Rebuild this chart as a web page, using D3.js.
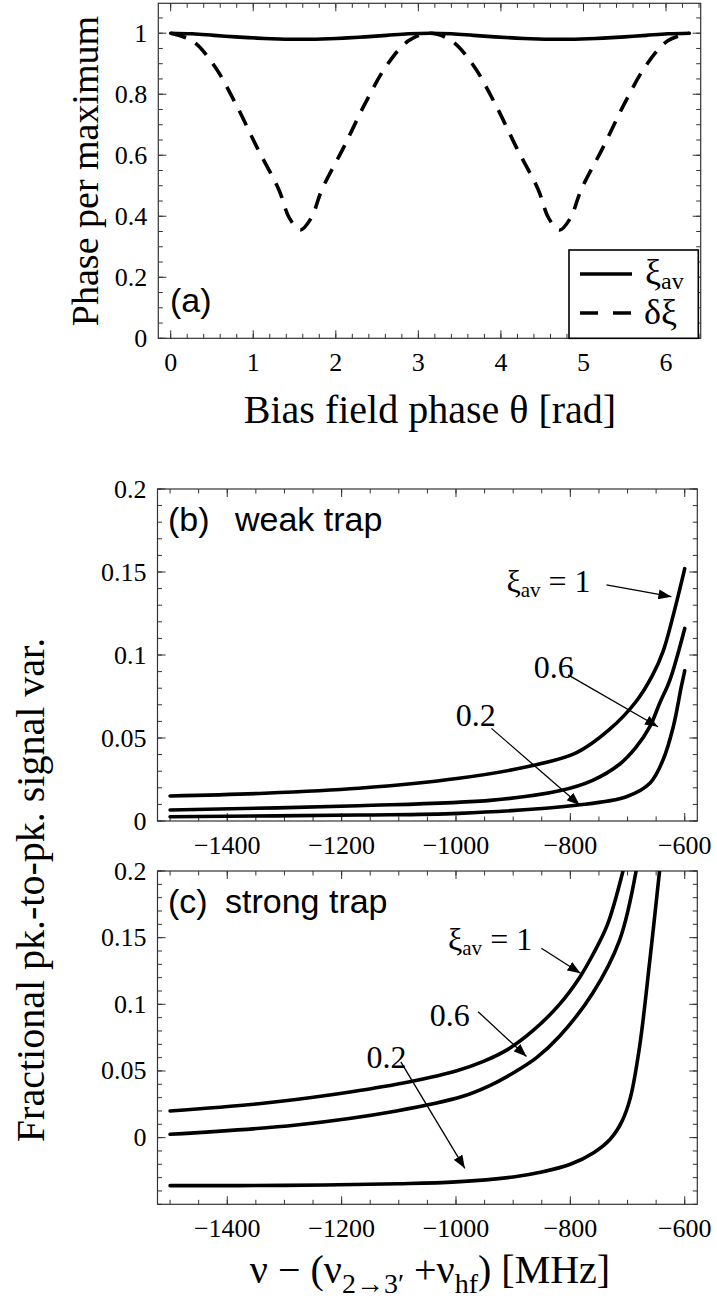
<!DOCTYPE html>
<html>
<head>
<meta charset="utf-8">
<script src="https://cdn.jsdelivr.net/npm/d3@7"></script>
<style>
  body { margin: 0; background: #fff; }
  svg { display: block; }
  .tick-label { font-family: "Liberation Serif", "Times New Roman", serif; font-size: 26px; fill: #000; }
  .axis-label { font-family: "Liberation Serif", "Times New Roman", serif; font-size: 40px; fill: #000; }
  .panel-tag { font-family: "Liberation Sans", Arial, sans-serif; font-size: 34px; fill: #000; }
  .note { font-family: "Liberation Serif", "Times New Roman", serif; font-size: 32px; fill: #000; }
</style>
</head>
<body>
<svg id="fig" width="717" height="1302"></svg>
<script>
// ---- data ----
// (a) phase per maximum vs bias field phase
const theta = [0, 0.262, 0.524, 0.785, 1.047, 1.309, 1.44, 1.571, 1.70, 1.833, 2.094, 2.356, 2.618, 2.880, 3.142,
               3.403, 3.665, 3.927, 4.189, 4.451, 4.58, 4.712, 4.84, 4.974, 5.236, 5.498, 5.760, 6.021, 6.283];
const xiAv = [1.0, 0.998, 0.993, 0.988, 0.984, 0.981, 0.980, 0.980, 0.980, 0.981, 0.984, 0.988, 0.993, 0.998, 1.0,
              0.998, 0.993, 0.988, 0.984, 0.981, 0.980, 0.980, 0.980, 0.981, 0.984, 0.988, 0.993, 0.998, 1.0];
const dXi  = [1.0, 0.975, 0.895, 0.77, 0.625, 0.488, 0.393, 0.355, 0.393, 0.488, 0.625, 0.77, 0.895, 0.975, 1.0,
              0.975, 0.895, 0.77, 0.625, 0.488, 0.393, 0.355, 0.393, 0.488, 0.625, 0.77, 0.895, 0.975, 1.0];

// (b) weak trap: [detuning MHz, fractional variation]
const weakXi1  = [[-1500, 0.0151], [-1335, 0.0167], [-1170, 0.0197], [-995, 0.0257], [-878, 0.0325], [-790, 0.0410],
                  [-732, 0.0550], [-685, 0.0720], [-656, 0.0880], [-638, 0.102], [-620, 0.124], [-600, 0.152]];
const weakXi06 = [[-1500, 0.0066], [-1170, 0.0092], [-936, 0.0126], [-819, 0.0182], [-761, 0.0245], [-714, 0.0342],
                  [-685, 0.0445], [-661, 0.0568], [-644, 0.0708], [-626, 0.0849], [-600, 0.116]];
const weakXi02 = [[-1500, 0.0026], [-1170, 0.0036], [-995, 0.0046], [-790, 0.0095], [-702, 0.0146], [-661, 0.0227],
                  [-638, 0.0367], [-620, 0.0568], [-606, 0.0809], [-600, 0.0905]];

// (c) strong trap
const strongXi1  = [[-1500, 0.020], [-1337, 0.0258], [-1221, 0.032], [-1104, 0.040], [-1000, 0.050], [-953, 0.057],
                    [-910, 0.066], [-866, 0.080], [-819, 0.100], [-784, 0.120], [-761, 0.137], [-735, 0.160], [-708, 0.2]];
const strongXi06 = [[-1500, 0.0025], [-1279, 0.0095], [-1104, 0.0200], [-988, 0.031], [-941, 0.039], [-900, 0.0485],
                    [-859, 0.060], [-819, 0.076], [-761, 0.1083], [-714, 0.148], [-685, 0.2]];
const strongXi02 = [[-1500, -0.036], [-1300, -0.0358], [-1100, -0.0346], [-1000, -0.0332], [-900, -0.0295], [-850, -0.0258],
                    [-800, -0.020], [-760, -0.0115], [-730, -0.001], [-710, 0.012], [-695, 0.030], [-679, 0.068],
                    [-661, 0.133], [-644, 0.2]];

// tick labels
const aXTicks = [0, 1, 2, 3, 4, 5, 6];
const aYTicks = [0, 0.2, 0.4, 0.6, 0.8, 1];
const detTicks = [-1400, -1200, -1000, -800, -600];
const varTicks = [0, 0.05, 0.1, 0.15, 0.2];

// annotations: label text, label anchor (data), arrow start, arrow tip (data)
const weakNotes = [
  { t: 'xi1', at: [-911.7, 0.138], from: [-736.9, 0.1422], to: [-623.3, 0.1351] },
  { t: '0.6', at: [-829, 0.093], from: [-804, 0.088], to: [-646.7, 0.0568] },
  { t: '0.2', at: [-965.4, 0.0639], from: [-938, 0.0558], to: [-783.6, 0.0096] }
];
const strongNotes = [
  { t: 'xi1', at: [-1013.9, 0.1408], from: [-850.7, 0.142], to: [-782.3, 0.1233] },
  { t: '0.6', at: [-1010.8, 0.092], from: [-961.4, 0.0945], to: [-876.7, 0.0608] },
  { t: '0.2', at: [-1121.7, 0.0605], from: [-1096.5, 0.0568], to: [-984.6, -0.023] }
];

const svg = d3.select('#fig');

svg.append('defs').append('marker')
    .attr('id', 'head')
    .attr('markerUnits', 'userSpaceOnUse')
    .attr('markerWidth', 14).attr('markerHeight', 10)
    .attr('refX', 13).attr('refY', 5)
    .attr('orient', 'auto')
  .append('path')
    .attr('d', 'M0,0 L13,5 L0,10 Z')
    .attr('fill', '#000');

let clipCount = 0;
const smooth = d3.curveCatmullRom.alpha(0.5);

function panel(cfg) {
  let g = svg.append('g');
  let x = d3.scaleLinear().domain(cfg.xDom).range([cfg.l, cfg.r]);
  let y = d3.scaleLinear().domain(cfg.yDom).range([cfg.b, cfg.t]);

  let ticks = g.append('g').attr('stroke', '#333').attr('stroke-width', 1);
  function xTick(v, len) {
    ticks.append('line').attr('x1', x(v)).attr('x2', x(v)).attr('y1', cfg.b).attr('y2', cfg.b - len);
    ticks.append('line').attr('x1', x(v)).attr('x2', x(v)).attr('y1', cfg.t).attr('y2', cfg.t + len);
  }
  function yTick(v, len) {
    ticks.append('line').attr('y1', y(v)).attr('y2', y(v)).attr('x1', cfg.l).attr('x2', cfg.l + len);
    ticks.append('line').attr('y1', y(v)).attr('y2', y(v)).attr('x1', cfg.r).attr('x2', cfg.r - len);
  }
  cfg.xMinor.forEach(v => xTick(v, 4.5));
  cfg.xMajor.forEach(v => xTick(v, 8));
  cfg.yMinor.forEach(v => yTick(v, 4.5));
  cfg.yMajor.forEach(v => yTick(v, 8));

  g.append('rect')
      .attr('x', cfg.l).attr('y', cfg.t)
      .attr('width', cfg.r - cfg.l).attr('height', cfg.b - cfg.t)
      .attr('fill', 'none').attr('stroke', '#333').attr('stroke-width', 1.2);

  g.selectAll(null).data(cfg.xMajor).enter().append('text')
      .attr('class', 'tick-label')
      .attr('text-anchor', 'middle')
      .attr('x', d => x(d)).attr('y', cfg.b + 33)
      .text(cfg.xFmt);
  g.selectAll(null).data(cfg.yMajor).enter().append('text')
      .attr('class', 'tick-label')
      .attr('text-anchor', 'end')
      .attr('dominant-baseline', 'central')
      .attr('x', cfg.l - 11).attr('y', d => y(d))
      .text(cfg.yFmt);

  let id = 'clip' + (clipCount++);
  svg.select('defs').append('clipPath').attr('id', id)
    .append('rect').attr('x', cfg.l).attr('y', cfg.t).attr('width', cfg.r - cfg.l).attr('height', cfg.b - cfg.t);
  let plot = g.append('g').attr('clip-path', `url(#${id})`);

  return { x, y, g, plot };
}

function minorRange(a, b, step) {
  return d3.range(Math.ceil(a / step), Math.floor(b / step) + 1).map(i => +(i * step).toFixed(4));
}

// ---- panel (a) ----
let pa = panel({
  l: 158.3, r: 700.7, t: 3.3, b: 338.3,
  xDom: [-0.15, 6.42], yDom: [0, 1.098],
  xMajor: aXTicks, xMinor: minorRange(-0.15, 6.42, 0.2),
  yMajor: aYTicks, yMinor: minorRange(0, 1.098, 0.05),
  xFmt: d => d, yFmt: d => d
});

let lineA = d3.line().curve(smooth).x(d => pa.x(d[0])).y(d => pa.y(d[1]));

pa.plot.append('path')
    .attr('d', lineA(theta.map((t, i) => [t, dXi[i]])))
    .attr('fill', 'none').attr('stroke', '#000').attr('stroke-width', 3.6)
    .attr('stroke-dasharray', '16,11');
pa.plot.append('path')
    .attr('d', lineA(theta.map((t, i) => [t, xiAv[i]])))
    .attr('fill', 'none').attr('stroke', '#000').attr('stroke-width', 3.6)
    .attr('stroke-linecap', 'round');

pa.g.append('text').attr('class', 'panel-tag').attr('x', 170).attr('y', 312).text('(a)');

// legend
let leg = pa.g.append('g');
leg.append('rect').attr('x', 569).attr('y', 250).attr('width', 129.3).attr('height', 88.3)
    .attr('fill', '#fff').attr('stroke', '#000').attr('stroke-width', 1.6);
leg.append('line').attr('x1', 580).attr('x2', 632).attr('y1', 274).attr('y2', 274)
    .attr('stroke', '#000').attr('stroke-width', 3.6);
leg.append('line').attr('x1', 580).attr('x2', 632).attr('y1', 313).attr('y2', 313)
    .attr('stroke', '#000').attr('stroke-width', 3.6).attr('stroke-dasharray', '18,15');
let l1 = leg.append('text').attr('class', 'note').style('font-size', '36px').attr('x', 645).attr('y', 284);
l1.append('tspan').text('ξ');
l1.append('tspan').attr('font-size', '24px').attr('dy', 5).text('av');
leg.append('text').attr('class', 'note').style('font-size', '36px').attr('x', 644).attr('y', 324).text('δξ');

svg.append('text').attr('class', 'axis-label').attr('text-anchor', 'middle')
    .attr('x', 430).attr('y', 423).text('Bias field phase θ [rad]');
svg.append('text').attr('class', 'axis-label').attr('text-anchor', 'middle')
    .style('font-size', '38px')
    .attr('transform', 'translate(98,171) rotate(-90)').text('Phase per maximum');

// ---- panels (b) and (c) ----
function detPanel(top, bottom, yDom, series, notes, tag, tagWord, wordX) {
  let p = panel({
    l: 157.5, r: 697.3, t: top, b: bottom,
    xDom: [-1522, -578], yDom: yDom,
    xMajor: detTicks, xMinor: minorRange(-1522, -578, 50),
    yMajor: varTicks, yMinor: minorRange(yDom[0], yDom[1], 0.01),
    xFmt: d3.format('d'), yFmt: d => d
  });
  let line = d3.line().curve(smooth).x(d => p.x(d[0])).y(d => p.y(d[1]));
  series.forEach(s => {
    p.plot.append('path').attr('d', line(s))
      .attr('fill', 'none').attr('stroke', '#000').attr('stroke-width', 3.6)
      .attr('stroke-linecap', 'round');
  });
  notes.forEach(n => {
    p.g.append('line')
      .attr('x1', p.x(n.from[0])).attr('y1', p.y(n.from[1]))
      .attr('x2', p.x(n.to[0])).attr('y2', p.y(n.to[1]))
      .attr('stroke', '#000').attr('stroke-width', 1.3)
      .attr('marker-end', 'url(#head)');
    if (n.t === 'xi1') {
      let t = p.g.append('text').attr('class', 'note').attr('x', p.x(n.at[0])).attr('y', p.y(n.at[1]));
      t.append('tspan').text('ξ');
      t.append('tspan').attr('font-size', '21px').attr('dy', 5).text('av');
      t.append('tspan').attr('dy', -5).text(' = 1');
    } else {
      p.g.append('text').attr('class', 'note').attr('text-anchor', 'middle')
        .attr('x', p.x(n.at[0])).attr('y', p.y(n.at[1]))
        .attr('dominant-baseline', 'central').text(n.t);
    }
  });
  p.g.append('text').attr('class', 'panel-tag').attr('x', 168).attr('y', top + 42).text(tag);
  p.g.append('text').attr('class', 'panel-tag').attr('x', wordX).attr('y', top + 42).text(tagWord);
  return p;
}

detPanel(489, 821, [0, 0.2], [weakXi1, weakXi06, weakXi02], weakNotes, '(b)', 'weak trap', 235);
detPanel(871, 1204.3, [-0.05, 0.2], [strongXi1, strongXi06, strongXi02], strongNotes, '(c)', 'strong trap', 225);

svg.append('text').attr('class', 'axis-label').attr('text-anchor', 'middle')
    .attr('transform', 'translate(44,890) rotate(-90)').text('Fractional pk.-to-pk. signal var.');

let xl = svg.append('text').attr('class', 'axis-label').attr('text-anchor', 'middle')
    .attr('x', 430).attr('y', 1283);
xl.append('tspan').text('ν − (ν');
xl.append('tspan').attr('font-size', '28px').attr('dy', 10).text('2→3′');
xl.append('tspan').attr('dy', -10).text(' +ν');
xl.append('tspan').attr('font-size', '28px').attr('dy', 10).text('hf');
xl.append('tspan').attr('dy', -10).text(') [MHz]');
</script>
</body>
</html>
